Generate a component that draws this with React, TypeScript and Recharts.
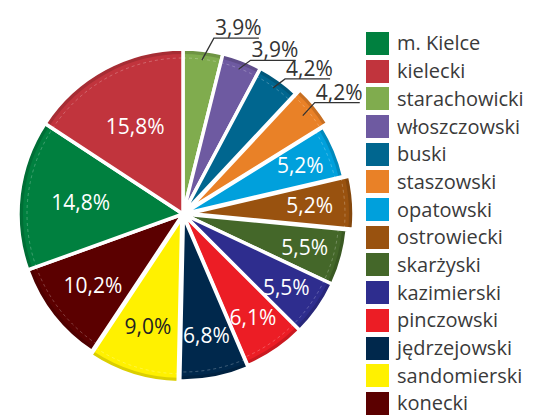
import React from 'react';
import { PieChart, Pie, Sector, Legend } from 'recharts';

// slices, clockwise from 12 o'clock
const pieNames = [
  'starachowicki', 'włoszczowski', 'buski', 'staszowski', 'opatowski', 'ostrowiecki',
  'skarżyski', 'kazimierski', 'pinczowski', 'jędrzejowski', 'sandomierski', 'konecki',
  'm. Kielce', 'kielecki',
];
const pieValues = [3.9, 3.9, 4.2, 4.2, 5.2, 5.2, 5.5, 5.5, 6.1, 6.8, 9.0, 10.2, 14.8, 15.8];

// legend order
const legendNames = [
  'm. Kielce', 'kielecki', 'starachowicki', 'włoszczowski', 'buski', 'staszowski', 'opatowski',
  'ostrowiecki', 'skarżyski', 'kazimierski', 'pinczowski', 'jędrzejowski', 'sandomierski', 'konecki',
];

const colors: Record<string, string> = {
  'm. Kielce': '#00803f',
  kielecki: '#c1343d',
  starachowicki: '#80ac4e',
  włoszczowski: '#6e5aa1',
  buski: '#00668f',
  staszowski: '#e98127',
  opatowski: '#00a0dc',
  ostrowiecki: '#99520f',
  skarżyski: '#446729',
  kazimierski: '#2e2d8e',
  pinczowski: '#ec1d25',
  jędrzejowski: '#00284c',
  sandomierski: '#fff100',
  konecki: '#5b0000',
};

// pulled-out slices (px)
const explode: Record<string, number> = {
  staszowski: 6,
  ostrowiecki: 6,
  sandomierski: 4,
  jędrzejowski: 2,
};

const data = pieNames.map((name, i) => ({ name, value: pieValues[i], fill: colors[name] }));

const CX = 178;
const CY = 209;
const R = 165;
const RAD = Math.PI / 180;
const FONT = '"Open Sans", "Noto Sans", sans-serif';

const shade = (hex: string, f: number) => {
  const n = parseInt(hex.slice(1), 16);
  const c = (v: number) => Math.round(v * f).toString(16).padStart(2, '0');
  return '#' + c((n >> 16) & 255) + c((n >> 8) & 255) + c(n & 255);
};

const fmt = (v: number) => v.toFixed(1).replace('.', ',') + '%';

const BevelSlice = (props: any) => {
  const { outerRadius, startAngle, endAngle, fill, payload, name } = props;
  const mid = (startAngle + endAngle) / 2;
  const off = explode[name ?? payload?.name] ?? 0;
  const cx = props.cx + off * Math.cos(-mid * RAD);
  const cy = props.cy + off * Math.sin(-mid * RAD);
  const common = { cx, cy, innerRadius: 0, startAngle, endAngle };
  return (
    <g>
      <Sector {...common} outerRadius={outerRadius} fill={shade(fill, 0.86)} />
      <Sector {...common} outerRadius={outerRadius - 5} fill={fill} />
      <Sector {...common} outerRadius={outerRadius - 9} fill="none"
        stroke="rgba(255,255,255,0.35)" strokeWidth={0.7} strokeDasharray="3 3" />
      <Sector {...common} outerRadius={outerRadius} fill="none"
        stroke="#fff" strokeWidth={3.5} strokeLinejoin="round" />
    </g>
  );
};

// vertical lift of the leader for the outside labels
const leaderLift = [22, 9, 9, 13];

const renderLabel = (props: any) => {
  const { cx, cy, midAngle, index, value } = props;
  const cos = Math.cos(-midAngle * RAD);
  const sin = Math.sin(-midAngle * RAD);
  if (index < 4) {
    const sx = cx + (R - 10) * cos;
    const sy = cy + (R - 10) * sin;
    const ex = sx + 12;
    const ey = sy - leaderLift[index];
    return (
      <g key={'l' + index}>
        <polyline points={`${sx},${sy} ${ex},${ey} ${ex + 45},${ey}`} fill="none" stroke="#333" strokeWidth={1.3} />
        <text x={ex + 1} y={ey - 3} fill="#333" fontSize={21} fontFamily={FONT}>{fmt(value)}</text>
      </g>
    );
  }
  const r = 140 - 2.5 * value;
  const x = cx + r * cos;
  const y = cy + r * sin;
  const dark = data[index].name === 'sandomierski';
  return (
    <text key={'l' + index} x={x} y={y} fill={dark ? '#222' : '#fff'} fontSize={21} fontFamily={FONT}
      textAnchor="middle" dominantBaseline="central">{fmt(value)}</text>
  );
};

const renderLegend = () => (
  <div style={{ fontFamily: FONT }}>
    {legendNames.map((n) => (
      <div key={n} style={{ display: 'flex', alignItems: 'center', height: 27.7 }}>
        <span style={{ width: 23, height: 23, background: colors[n], display: 'inline-block', marginRight: 8, flex: 'none' }} />
        <span style={{ fontSize: 20, color: '#3a3a3a', lineHeight: '20px' }}>{n}</span>
      </div>
    ))}
  </div>
);

export default function App() {
  return (
    <div style={{ position: 'absolute', left: 0, top: 0, width: 545, height: 415, background: '#fff' }}>
      <PieChart width={545} height={415}>
        <Pie
          data={data}
          dataKey="value"
          nameKey="name"
          cx={CX}
          cy={CY}
          innerRadius={0}
          outerRadius={R}
          startAngle={90}
          endAngle={-270}
          stroke="none"
          shape={BevelSlice}
          label={renderLabel}
          labelLine={false}
          isAnimationActive={false}
        />
        <Legend
          content={renderLegend}
          layout="vertical"
          align="right"
          verticalAlign="top"
          wrapperStyle={{ position: 'absolute', left: 366, top: 29.6, width: 180 }}
        />
      </PieChart>
    </div>
  );
}
